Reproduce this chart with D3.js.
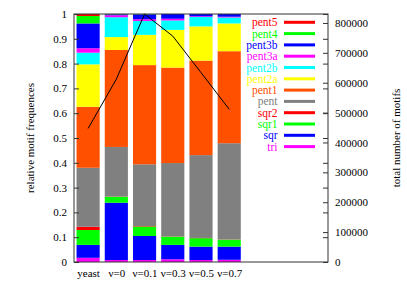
<!DOCTYPE html>
<html>
<head>
<meta charset="utf-8">
<script src="https://cdn.jsdelivr.net/npm/d3@7"></script>
<style>
  body { margin: 0; background: #fff; }
  svg { display: block; font-family: "Liberation Serif", "DejaVu Serif", serif; }
</style>
</head>
<body>
<svg id="chart" width="407" height="285"></svg>
<script>
// categories on the x axis
var categories = ["yeast", "ν=0", "ν=0.1", "ν=0.3", "ν=0.5", "ν=0.7"];

// motif classes, stacked bottom to top
var motifs = ["tri", "sqr", "sqr1", "sqr2", "pent", "pent1", "pent2a", "pent2b", "pent3a", "pent3b", "pent4", "pent5"];
var motifColors = ["#ff00ff", "#0000ff", "#00ff00", "#ff0000", "#808080", "#ff5000",
                   "#ffff00", "#00ffff", "#ff00ff", "#0000ff", "#00ff00", "#ff0000"];

// relative frequencies per category
var tri    = [0.017, 0.008, 0.008, 0.011, 0.008, 0.009];
var sqr    = [0.052, 0.231, 0.097, 0.058, 0.054, 0.053];
var sqr1   = [0.060, 0.024, 0.038, 0.033, 0.034, 0.028];
var sqr2   = [0.013, 0.001, 0.002, 0.001, 0.001, 0.001];
var pent   = [0.238, 0.200, 0.249, 0.296, 0.334, 0.388];
var pent1  = [0.246, 0.391, 0.400, 0.385, 0.381, 0.371];
var pent2a = [0.171, 0.052, 0.122, 0.152, 0.138, 0.112];
var pent2b = [0.047, 0.080, 0.056, 0.038, 0.038, 0.024];
var pent3a = [0.018, 0.008, 0.007, 0.007, 0.003, 0.003];
var pent3b = [0.100, 0.004, 0.020, 0.020, 0.010, 0.012];
var pent4  = [0.030, 0.001, 0.001, 0.000, 0.000, 0.000];
var pent5  = [0.008, 0.000, 0.000, 0.000, 0.000, 0.000];

// total number of motifs (right axis)
var totals = [447000, 612000, 830000, 756000, 634000, 511000];

var yTicks = d3.ticks(0, 1, 10);
var y2Ticks = d3.range(0, 800001, 100000);

var series = {tri: tri, sqr: sqr, sqr1: sqr1, sqr2: sqr2, pent: pent, pent1: pent1,
              pent2a: pent2a, pent2b: pent2b, pent3a: pent3a, pent3b: pent3b, pent4: pent4, pent5: pent5};

var rows = categories.map(function (c, i) {
  var r = {category: c, index: i};
  motifs.forEach(function (m) { r[m] = series[m][i]; });
  return r;
});

var svg = d3.select("#chart"),
    margin = {top: 14, right: 79, bottom: 23, left: 74},
    width = +svg.attr("width") - margin.left - margin.right,
    height = +svg.attr("height") - margin.top - margin.bottom,
    g = svg.append("g").attr("transform", "translate(" + margin.left + "," + margin.top + ")");

var x = d3.scaleLinear().domain([-0.5, 8.5]).range([0, width]);
var step = x(1) - x(0);
var barWidth = step * 0.82;

var y = d3.scaleLinear().domain([0, 1]).range([height, 0]);
var y2 = d3.scaleLinear().domain([0, 830000]).range([height, 0]);
var color = d3.scaleOrdinal().domain(motifs).range(motifColors);

var stacked = d3.stack().keys(motifs)(rows);

g.selectAll(".layer")
  .data(stacked)
  .enter().append("g")
    .attr("class", "layer")
    .attr("fill", function (d) { return color(d.key); })
  .selectAll("rect")
  .data(function (d) { return d; })
  .enter().append("rect")
    .attr("x", function (d) { return x(d.data.index) - barWidth / 2; })
    .attr("width", barWidth)
    .attr("y", function (d) { return y(Math.min(d[1], 1)); })
    .attr("height", function (d) { return Math.max(0, y(d[0]) - y(Math.min(d[1], 1))); });

// total number line
var line = d3.line()
    .x(function (d, i) { return x(i); })
    .y(function (d) { return y2(d); });

g.append("path")
    .datum(totals)
    .attr("fill", "none")
    .attr("stroke", "#000")
    .attr("stroke-width", 1)
    .attr("d", line);

// ticks (inward, gnuplot style)
var tickColor = "#333";
g.append("g")
    .attr("class", "axis axis--y")
    .call(d3.axisLeft(y).tickValues(yTicks).tickSize(-5).tickPadding(7).tickFormat(d3.format("~g")));

g.append("g")
    .attr("transform", "translate(" + width + ",0)")
    .call(d3.axisRight(y).tickValues(yTicks).tickSize(-5).tickFormat(""));

g.append("g")
    .attr("class", "axis axis--y2")
    .attr("transform", "translate(" + width + ",0)")
    .call(d3.axisRight(y2).tickValues(y2Ticks).tickSize(-5).tickPadding(7).tickFormat(d3.format("d")));

g.append("g")
    .attr("class", "axis axis--x")
    .attr("transform", "translate(0," + height + ")")
    .call(d3.axisBottom(x).tickValues(d3.range(categories.length)).tickSize(0).tickPadding(7)
      .tickFormat(function (i) { return categories[i]; }));

g.selectAll(".domain").remove();
g.selectAll(".tick line").attr("stroke", tickColor);
g.selectAll(".tick text")
    .attr("fill", "#000")
    .style("font-family", "'Liberation Serif', serif")
    .style("font-size", "11px");

// border
g.append("rect")
    .attr("width", width)
    .attr("height", height)
    .attr("fill", "none")
    .attr("stroke", tickColor)
    .attr("stroke-width", 1);

// legend
var legend = g.selectAll(".legend")
  .data(motifs.slice().reverse())
  .enter().append("g")
    .attr("class", "legend")
    .attr("transform", function (d, i) { return "translate(0," + (8.3 + i * 11.3) + ")"; });

legend.append("text")
    .attr("x", 203.5)
    .attr("dy", "0.35em")
    .attr("text-anchor", "end")
    .attr("fill", function (d) { return color(d); })
    .style("font-size", "11.5px")
    .text(function (d) { return d; });

legend.append("line")
    .attr("x1", 210)
    .attr("x2", 241)
    .attr("stroke", function (d) { return color(d); })
    .attr("stroke-width", 3);

// axis labels
svg.append("text")
    .attr("text-anchor", "middle")
    .attr("transform", "translate(34," + (margin.top + height / 2) + ") rotate(-90)")
    .style("font-size", "11px")
    .text("relative motif frequences");

svg.append("text")
    .attr("text-anchor", "middle")
    .attr("transform", "translate(400," + (margin.top + height / 2) + ") rotate(-90)")
    .style("font-size", "11px")
    .text("total number of motifs");
</script>
</body>
</html>
